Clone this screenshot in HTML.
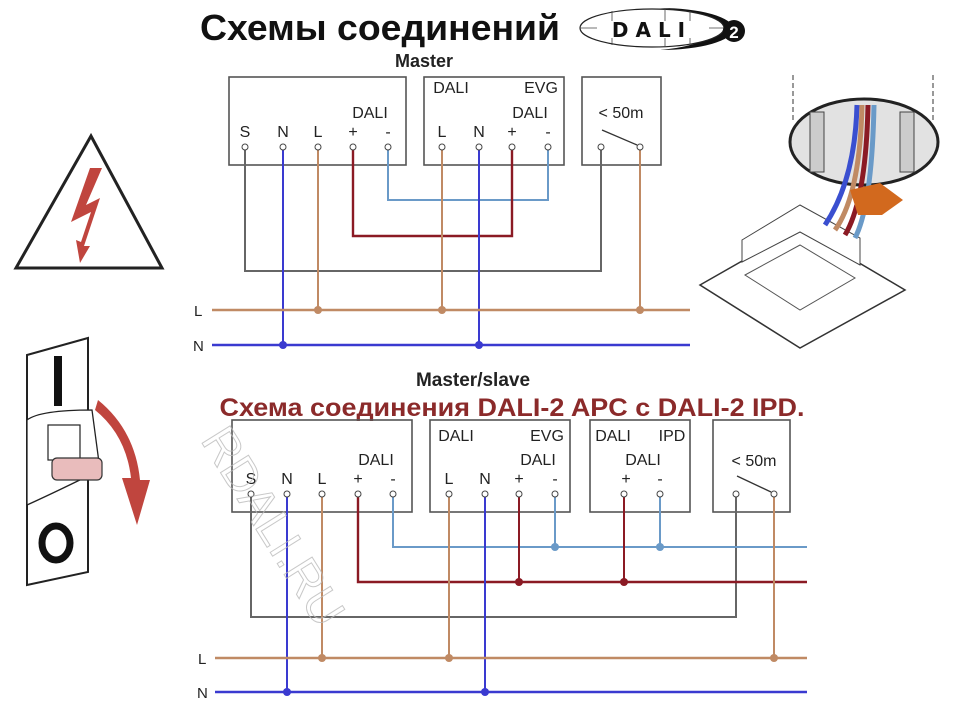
<!DOCTYPE html><html><head><style>body{margin:0;background:#fff}svg{display:block}</style></head><body>
<svg width="960" height="724" viewBox="0 0 960 724" xmlns="http://www.w3.org/2000/svg" font-family="Liberation Sans, DejaVu Sans, sans-serif">
<rect width="960" height="724" fill="#fff"/>
<text x="380" y="40" font-size="36" font-weight="bold" text-anchor="middle" fill="#111" textLength="360" lengthAdjust="spacingAndGlyphs">Схемы соединений</text>
<!-- DALI logo -->
<path d="M660 8 A78 22 0 0 1 660 50 A70 20 0 0 0 660 8Z" fill="#111"/>
<ellipse cx="652" cy="28" rx="72" ry="19" fill="#fff" stroke="#222" stroke-width="1.2"/>
<line x1="580" y1="28" x2="724" y2="28" stroke="#444" stroke-width="0.8"/>
<line x1="612" y1="11" x2="612" y2="45" stroke="#444" stroke-width="0.8"/><line x1="665" y1="9" x2="665" y2="47" stroke="#444" stroke-width="0.8"/><line x1="690" y1="11" x2="690" y2="45" stroke="#444" stroke-width="0.8"/>
<rect x="597" y="21" width="112" height="17" fill="#fff"/>
<text x="652" y="37" font-size="20" font-weight="bold" text-anchor="middle" letter-spacing="7" fill="#111" font-family="DejaVu Sans, sans-serif">DALI</text>
<circle cx="734" cy="31" r="11" fill="#111"/><text x="734" y="38" font-size="17" font-weight="bold" text-anchor="middle" fill="#fff">2</text>
<text x="424" y="67" font-size="18" font-weight="bold" text-anchor="middle" fill="#222">Master</text>
<!-- top diagram -->
<g fill="none" stroke="#555" stroke-width="1.6">
<rect x="229" y="77" width="177" height="88"/><rect x="424" y="77" width="140" height="88"/><rect x="582" y="77" width="79" height="88"/>
</g>
<g font-size="16" fill="#222" text-anchor="middle">
<text x="245" y="137">S</text><text x="283" y="137">N</text><text x="318" y="137">L</text><text x="353" y="137">+</text><text x="388" y="137">-</text><text x="370" y="118">DALI</text>
<text x="442" y="137">L</text><text x="479" y="137">N</text><text x="512" y="137">+</text><text x="548" y="137">-</text><text x="530" y="118">DALI</text>
<text x="451" y="93">DALI</text><text x="541" y="93">EVG</text><text x="621" y="118">&lt; 50m</text>
</g>
<line x1="602" y1="130" x2="637" y2="145" stroke="#333" stroke-width="1.3"/>
<g fill="none" stroke-width="2">
<polyline points="245,148 245,271 601,271 601,148" stroke="#666"/>
<polyline points="388,148 388,200 548,200 548,148" stroke="#6a9ac8"/>
<polyline points="353,148 353,236 512,236 512,148" stroke="#8b1a24" stroke-width="2.4"/>
<line x1="318" y1="148" x2="318" y2="310" stroke="#c08a64"/><line x1="442" y1="148" x2="442" y2="310" stroke="#c08a64"/><line x1="640" y1="148" x2="640" y2="310" stroke="#c08a64"/>
<line x1="283" y1="148" x2="283" y2="345" stroke="#3a3ad0"/><line x1="479" y1="148" x2="479" y2="345" stroke="#3a3ad0"/>
<line x1="212" y1="310" x2="690" y2="310" stroke="#c08a64" stroke-width="2.5"/>
<line x1="212" y1="345" x2="690" y2="345" stroke="#3a3ad0" stroke-width="2.5"/>
</g>
<g fill="#fff" stroke="#444" stroke-width="1"><circle cx="245" cy="147" r="3"/><circle cx="283" cy="147" r="3"/><circle cx="318" cy="147" r="3"/><circle cx="353" cy="147" r="3"/><circle cx="388" cy="147" r="3"/><circle cx="442" cy="147" r="3"/><circle cx="479" cy="147" r="3"/><circle cx="512" cy="147" r="3"/><circle cx="548" cy="147" r="3"/><circle cx="601" cy="147" r="3"/><circle cx="640" cy="147" r="3"/></g>
<g fill="#c08a64"><circle cx="318" cy="310" r="4"/><circle cx="442" cy="310" r="4"/><circle cx="640" cy="310" r="4"/></g>
<g fill="#3a3ad0"><circle cx="283" cy="345" r="4"/><circle cx="479" cy="345" r="4"/></g>
<text x="194" y="316" font-size="15" fill="#222">L</text><text x="193" y="351" font-size="15" fill="#222">N</text>
<text x="473" y="386" font-size="19" font-weight="bold" text-anchor="middle" fill="#222">Master/slave</text>
<text x="512" y="416" font-size="25" font-weight="bold" text-anchor="middle" fill="#8b2a2a" textLength="585" lengthAdjust="spacingAndGlyphs">Схема соединения DALI-2 APC с DALI-2 IPD.</text>
<!-- bottom diagram -->
<g fill="none" stroke="#555" stroke-width="1.6">
<rect x="232" y="420" width="180" height="92"/><rect x="430" y="420" width="140" height="92"/><rect x="590" y="420" width="100" height="92"/><rect x="713" y="420" width="77" height="92"/>
</g>
<g font-size="16" fill="#222" text-anchor="middle">
<text x="251" y="484">S</text><text x="287" y="484">N</text><text x="322" y="484">L</text><text x="358" y="484">+</text><text x="393" y="484">-</text><text x="376" y="465">DALI</text>
<text x="449" y="484">L</text><text x="485" y="484">N</text><text x="519" y="484">+</text><text x="555" y="484">-</text><text x="538" y="465">DALI</text>
<text x="456" y="441">DALI</text><text x="547" y="441">EVG</text>
<text x="613" y="441">DALI</text><text x="672" y="441">IPD</text><text x="643" y="465">DALI</text><text x="626" y="484">+</text><text x="660" y="484">-</text>
<text x="754" y="466">&lt; 50m</text>
</g>
<line x1="737" y1="476" x2="771" y2="492" stroke="#333" stroke-width="1.3"/>
<g fill="none" stroke-width="2">
<polyline points="251,494 251,617 736,617 736,494" stroke="#666"/>
<polyline points="393,494 393,547 807,547" stroke="#6a9ac8"/><line x1="555" y1="494" x2="555" y2="547" stroke="#6a9ac8"/><line x1="660" y1="494" x2="660" y2="547" stroke="#6a9ac8"/>
<polyline points="358,494 358,582 807,582" stroke="#8b1a24" stroke-width="2.4"/><line x1="519" y1="494" x2="519" y2="582" stroke="#8b1a24"/><line x1="624" y1="494" x2="624" y2="582" stroke="#8b1a24"/>
<line x1="322" y1="494" x2="322" y2="658" stroke="#c08a64"/><line x1="449" y1="494" x2="449" y2="658" stroke="#c08a64"/><line x1="774" y1="494" x2="774" y2="658" stroke="#c08a64"/>
<line x1="287" y1="494" x2="287" y2="692" stroke="#3a3ad0"/><line x1="485" y1="494" x2="485" y2="692" stroke="#3a3ad0"/>
<line x1="215" y1="658" x2="807" y2="658" stroke="#c08a64" stroke-width="2.5"/>
<line x1="215" y1="692" x2="807" y2="692" stroke="#3a3ad0" stroke-width="2.5"/>
</g>
<g fill="#fff" stroke="#444" stroke-width="1"><circle cx="251" cy="494" r="3"/><circle cx="287" cy="494" r="3"/><circle cx="322" cy="494" r="3"/><circle cx="358" cy="494" r="3"/><circle cx="393" cy="494" r="3"/><circle cx="449" cy="494" r="3"/><circle cx="485" cy="494" r="3"/><circle cx="519" cy="494" r="3"/><circle cx="555" cy="494" r="3"/><circle cx="624" cy="494" r="3"/><circle cx="660" cy="494" r="3"/><circle cx="736" cy="494" r="3"/><circle cx="774" cy="494" r="3"/></g>
<g fill="#6a9ac8"><circle cx="555" cy="547" r="4"/><circle cx="660" cy="547" r="4"/></g>
<g fill="#8b1a24"><circle cx="519" cy="582" r="4"/><circle cx="624" cy="582" r="4"/></g>
<g fill="#c08a64"><circle cx="322" cy="658" r="4"/><circle cx="449" cy="658" r="4"/><circle cx="774" cy="658" r="4"/></g>
<g fill="#3a3ad0"><circle cx="287" cy="692" r="4"/><circle cx="485" cy="692" r="4"/></g>
<text x="198" y="664" font-size="15" fill="#222">L</text><text x="197" y="698" font-size="15" fill="#222">N</text>
<text x="0" y="0" font-size="48" fill="none" stroke="#bbb" stroke-width="1" transform="translate(200,440) rotate(58)" opacity="0.8">RDALI.RU</text>
<!-- warning -->
<polygon points="16,268 162,268 91,136" fill="#fff" stroke="#222" stroke-width="3"/>
<polygon points="90,168 102,168 86,205 100,198 84,246 90,246 80,263 76,240 81,242 91,212 71,222" fill="#c0453e"/>
<!-- breaker -->
<polygon points="27,355 88,338 88,572 27,585" fill="#fff" stroke="#222" stroke-width="2"/>
<rect x="54" y="356" width="8" height="50" fill="#111"/>
<path d="M27 420 Q40 410 92 410 L100 470 Q60 490 27 505Z" fill="#fff" stroke="#222" stroke-width="1.3"/>
<rect x="48" y="425" width="32" height="35" fill="#fff" stroke="#222" stroke-width="1.2"/>
<rect x="52" y="458" width="50" height="22" rx="5" fill="#e9bcbc" stroke="#333" stroke-width="1.2"/>
<ellipse cx="56" cy="543" rx="14" ry="17" fill="none" stroke="#111" stroke-width="7"/>
<path d="M98 400 Q135 430 140 480 L150 480 L137 525 L122 478 L131 478 Q126 435 95 410Z" fill="#c0453e"/>
<!-- device image -->
<line x1="793" y1="75" x2="793" y2="122" stroke="#333" stroke-dasharray="5,3"/><line x1="933" y1="75" x2="933" y2="122" stroke="#333" stroke-dasharray="5,3"/>
<ellipse cx="864" cy="142" rx="74" ry="43" fill="#e2e2e2" stroke="#222" stroke-width="3"/>
<rect x="810" y="112" width="14" height="60" fill="#ccc" stroke="#444"/><rect x="900" y="112" width="14" height="60" fill="#ccc" stroke="#444"/>
<polygon points="700,285 800,228 905,290 800,348" fill="#fff" stroke="#333" stroke-width="1.5"/>
<polygon points="745,275 800,245 855,278 800,310" fill="none" stroke="#555"/>
<polygon points="742,240 800,205 860,238 860,265 800,232 742,262" fill="#fff" stroke="#444"/>
<g fill="none" stroke-width="5"><path d="M857 105 Q855 180 825 225" stroke="#3a4fd0"/><path d="M862 105 Q860 195 835 230" stroke="#c08a64"/><path d="M868 105 Q866 200 845 235" stroke="#8b1a24"/><path d="M874 105 Q872 205 855 238" stroke="#6a9ac8"/></g>
<polygon points="850,190 880,183 903,200 882,215 858,215" fill="#d2691e"/>
</svg></body></html>
